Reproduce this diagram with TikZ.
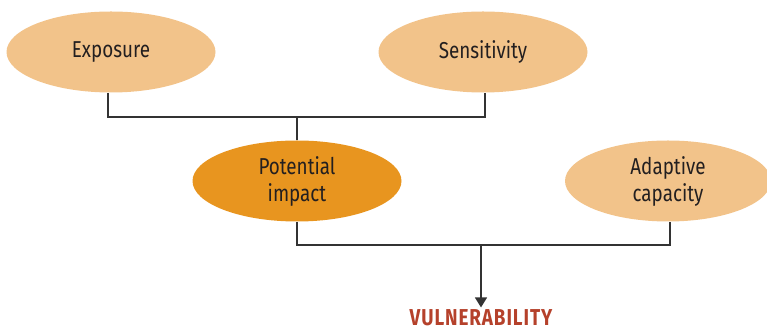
\documentclass[tikz,border=0pt]{standalone}
\usepackage{fontspec}
\setmainfont{Fira Sans}[FakeStretch=0.82]
\usepackage{xcolor}
\usetikzlibrary{shapes.geometric,arrows.meta}
\definecolor{lightorange}{HTML}{F2C38A}
\definecolor{darkorange}{HTML}{E8951F}
\definecolor{textgrey}{HTML}{231F20}
\definecolor{vulnred}{HTML}{B5412B}
\tikzset{
    factor/.style={draw=none, ellipse, fill=lightorange, inner sep=0pt, minimum width=104.5pt, minimum height=40.5pt, font=\fontsize{11.5}{13.5}\selectfont, text=textgrey, align=center},
    impact/.style={factor, fill=darkorange},
    link/.style={draw=black!80, line width=0.65pt}}

\begin{document}
\begin{tikzpicture}[x=0.5pt,y=-0.5pt]
\useasboundingbox (0,0) rectangle (767,330);

\node[factor] (exp) at (111,52) {Exposure};
\node[factor] (sens) at (483,52) {Sensitivity};
\node[impact] (pot) at (297,181) {Potential\\impact};
\node[factor, minimum width=103pt] (adap) at (668,181) {Adaptive\\capacity};
\node[inner sep=1pt, font=\fontsize{11.5}{13.5}\selectfont\bfseries\addfontfeatures{LetterSpace=4}, text=vulnred] (vul) at (481,318) {VULNERABILITY};

\coordinate (j1) at (297,117);
\coordinate (j2) at (481,245);

\draw[link] (exp.south -| 108,0) |- (j1) -| (sens.south -| 485,0);
\draw[link] (j1) -- (pot.north);
\draw[link] (pot.south) |- (j2) -| (adap.south -| 670,0);
\draw[link, -{Triangle[length=5pt,width=6pt]}] (j2) -- (vul.north);
\end{tikzpicture}
\end{document}
